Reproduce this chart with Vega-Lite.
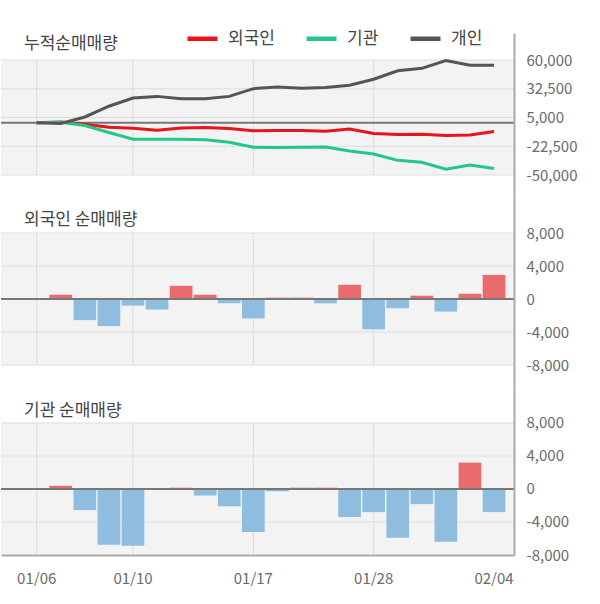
{
  "$schema": "https://vega.github.io/schema/vega-lite/v6.json",
  "padding": {"top": 21, "left": 0, "right": 0, "bottom": 0},
  "background": "white",
  "spacing": 0,
  "bounds": "flush",
  "config": {
    "view": {"stroke": null},
    "font": "Noto Sans CJK KR",
    "title": {"font": "Noto Sans CJK KR", "fontSize": 17, "fontWeight": "normal", "color": "#444444", "anchor": "start", "frame": "group"},
    "axis": {"labelFont": "Noto Sans CJK KR", "labelFontSize": 15, "labelColor": "#6a6a6a", "ticks": false, "grid": false, "title": null, "domainColor": "#aaaaaa", "domainWidth": 2}
  },
  "datasets": {
    "daily": [
      {"date": "01/07", "fgn": 520, "inst": 400},
      {"date": "01/08", "fgn": -2560, "inst": -2560},
      {"date": "01/09", "fgn": -3280, "inst": -6760},
      {"date": "01/10", "fgn": -800, "inst": -6880},
      {"date": "01/13", "fgn": -1280, "inst": 0},
      {"date": "01/14", "fgn": 1600, "inst": 160},
      {"date": "01/15", "fgn": 520, "inst": -800},
      {"date": "01/16", "fgn": -520, "inst": -2080},
      {"date": "01/17", "fgn": -2360, "inst": -5200},
      {"date": "01/20", "fgn": 160, "inst": -280},
      {"date": "01/21", "fgn": 160, "inst": 160},
      {"date": "01/22", "fgn": -520, "inst": 160},
      {"date": "01/23", "fgn": 1720, "inst": -3400},
      {"date": "01/28", "fgn": -3680, "inst": -2800},
      {"date": "01/29", "fgn": -1120, "inst": -5920},
      {"date": "01/30", "fgn": 400, "inst": -1840},
      {"date": "01/31", "fgn": -1520, "inst": -6400},
      {"date": "02/03", "fgn": 640, "inst": 3200},
      {"date": "02/04", "fgn": 2920, "inst": -2800}
    ],
    "cum": [
      {"date": "01/06", "investor": "외국인", "value": 0},
      {"date": "01/07", "investor": "외국인", "value": 700},
      {"date": "01/08", "investor": "외국인", "value": -1500},
      {"date": "01/09", "investor": "외국인", "value": -4300},
      {"date": "01/10", "investor": "외국인", "value": -5300},
      {"date": "01/13", "investor": "외국인", "value": -7200},
      {"date": "01/14", "investor": "외국인", "value": -5000},
      {"date": "01/15", "investor": "외국인", "value": -4600},
      {"date": "01/16", "investor": "외국인", "value": -5500},
      {"date": "01/17", "investor": "외국인", "value": -7700},
      {"date": "01/20", "investor": "외국인", "value": -7500},
      {"date": "01/21", "investor": "외국인", "value": -7500},
      {"date": "01/22", "investor": "외국인", "value": -8200},
      {"date": "01/23", "investor": "외국인", "value": -6000},
      {"date": "01/28", "investor": "외국인", "value": -10200},
      {"date": "01/29", "investor": "외국인", "value": -11200},
      {"date": "01/30", "investor": "외국인", "value": -11000},
      {"date": "01/31", "investor": "외국인", "value": -12200},
      {"date": "02/03", "investor": "외국인", "value": -11800},
      {"date": "02/04", "investor": "외국인", "value": -8300},
      {"date": "01/06", "investor": "기관", "value": 0},
      {"date": "01/07", "investor": "기관", "value": 400},
      {"date": "01/08", "investor": "기관", "value": -2600},
      {"date": "01/09", "investor": "기관", "value": -9300},
      {"date": "01/10", "investor": "기관", "value": -15800},
      {"date": "01/13", "investor": "기관", "value": -15800},
      {"date": "01/14", "investor": "기관", "value": -15700},
      {"date": "01/15", "investor": "기관", "value": -16300},
      {"date": "01/16", "investor": "기관", "value": -18600},
      {"date": "01/17", "investor": "기관", "value": -23400},
      {"date": "01/20", "investor": "기관", "value": -23600},
      {"date": "01/21", "investor": "기관", "value": -23500},
      {"date": "01/22", "investor": "기관", "value": -23300},
      {"date": "01/23", "investor": "기관", "value": -27000},
      {"date": "01/28", "investor": "기관", "value": -30000},
      {"date": "01/29", "investor": "기관", "value": -36000},
      {"date": "01/30", "investor": "기관", "value": -37900},
      {"date": "01/31", "investor": "기관", "value": -44500},
      {"date": "02/03", "investor": "기관", "value": -40500},
      {"date": "02/04", "investor": "기관", "value": -43800},
      {"date": "01/06", "investor": "개인", "value": 0},
      {"date": "01/07", "investor": "개인", "value": -650},
      {"date": "01/08", "investor": "개인", "value": 5500},
      {"date": "01/09", "investor": "개인", "value": 15800},
      {"date": "01/10", "investor": "개인", "value": 23600},
      {"date": "01/13", "investor": "개인", "value": 25200},
      {"date": "01/14", "investor": "개인", "value": 22900},
      {"date": "01/15", "investor": "개인", "value": 22900},
      {"date": "01/16", "investor": "개인", "value": 25200},
      {"date": "01/17", "investor": "개인", "value": 32600},
      {"date": "01/20", "investor": "개인", "value": 34200},
      {"date": "01/21", "investor": "개인", "value": 32900},
      {"date": "01/22", "investor": "개인", "value": 33600},
      {"date": "01/23", "investor": "개인", "value": 35800},
      {"date": "01/28", "investor": "개인", "value": 41600},
      {"date": "01/29", "investor": "개인", "value": 49700},
      {"date": "01/30", "investor": "개인", "value": 52000},
      {"date": "01/31", "investor": "개인", "value": 59400},
      {"date": "02/03", "investor": "개인", "value": 54900},
      {"date": "02/04", "investor": "개인", "value": 54900}
    ],
    "gridDates": [{"date": "01/06"}, {"date": "01/10"}, {"date": "01/17"}, {"date": "01/28"}]
  },
  "vconcat": [
    {
      "width": 513,
      "height": 162,
      "title": {"text": "누적순매매량", "offset": -28, "dx": 23, "baseline": "middle"},
      "layer": [
        {
          "data": {"values": [{"lo": -50000, "hi": 60000}]},
          "mark": {"type": "rect", "color": "#f3f3f3"},
          "encoding": {
            "y": {"field": "lo", "type": "quantitative", "scale": {"domain": [-69130, 85826], "nice": false, "zero": false},
              "axis": {"orient": "right", "values": [60000, 32500, 5000, -22500, -50000], "format": ",d", "labelExpr": "replace(datum.label, '−', '-')", "labelPadding": 12, "zindex": 1}},
            "y2": {"field": "hi"}
          }
        },
        {
          "data": {"name": "gridDates"},
          "mark": {"type": "rule", "color": "#dcdcdc", "strokeWidth": 1},
          "encoding": {
            "x": {"field": "date", "type": "nominal", "bandPosition": 0.5, "axis": null,
              "scale": {"type": "band", "domain": ["01/06","01/07","01/08","01/09","01/10","01/13","01/14","01/15","01/16","01/17","01/20","01/21","01/22","01/23","01/28","01/29","01/30","01/31","02/03","02/04"], "paddingInner": 0.057, "paddingOuter": 0.685, "align": 0.7386, "round": false}},
            "y": {"datum": -50000, "type": "quantitative", "scale": {"domain": [-69130, 85826], "nice": false, "zero": false},
              "axis": {"orient": "right", "values": [60000, 32500, 5000, -22500, -50000], "format": ",d", "labelExpr": "replace(datum.label, '−', '-')", "labelPadding": 12, "zindex": 1}},
            "y2": {"datum": 60000}
          }
        },
        {
          "data": {"values": [{"v": 60000}, {"v": 32500}, {"v": 5000}, {"v": -22500}, {"v": -50000}]},
          "mark": {"type": "rule", "color": "#dcdcdc", "strokeWidth": 1},
          "encoding": {
            "y": {"field": "v", "type": "quantitative", "scale": {"domain": [-69130, 85826], "nice": false, "zero": false},
              "axis": {"orient": "right", "values": [60000, 32500, 5000, -22500, -50000], "format": ",d", "labelExpr": "replace(datum.label, '−', '-')", "labelPadding": 12, "zindex": 1}}
          }
        },
        {
          "data": {"values": [{"v": 0}]},
          "mark": {"type": "rule", "color": "#777777", "strokeWidth": 2},
          "encoding": {
            "y": {"field": "v", "type": "quantitative", "scale": {"domain": [-69130, 85826], "nice": false, "zero": false},
              "axis": {"orient": "right", "values": [60000, 32500, 5000, -22500, -50000], "format": ",d", "labelExpr": "replace(datum.label, '−', '-')", "labelPadding": 12, "zindex": 1}}
          }
        },
        {
          "data": {"name": "cum"},
          "mark": {"type": "line", "strokeWidth": 3},
          "encoding": {
            "x": {"field": "date", "type": "nominal", "bandPosition": 0.5, "axis": null,
              "scale": {"type": "band", "domain": ["01/06","01/07","01/08","01/09","01/10","01/13","01/14","01/15","01/16","01/17","01/20","01/21","01/22","01/23","01/28","01/29","01/30","01/31","02/03","02/04"], "paddingInner": 0.057, "paddingOuter": 0.685, "align": 0.7386, "round": false}},
            "y": {"field": "value", "type": "quantitative", "scale": {"domain": [-69130, 85826], "nice": false, "zero": false},
              "axis": {"orient": "right", "values": [60000, 32500, 5000, -22500, -50000], "format": ",d", "labelExpr": "replace(datum.label, '−', '-')", "labelPadding": 12, "zindex": 1}},
            "color": {"field": "investor", "type": "nominal",
              "scale": {"domain": ["외국인", "기관", "개인"], "range": ["#e8141c", "#22c88a", "#555555"]},
              "legend": {"orient": "none", "legendX": 184, "legendY": -12, "direction": "horizontal", "title": null, "symbolType": "stroke", "symbolSize": 900, "symbolStrokeWidth": 4.5, "labelFont": "Noto Sans CJK KR", "labelFontSize": 17, "labelColor": "#444444", "labelOffset": 8, "columnPadding": 22, "padding": 0}
            }
          }
        }
      ]
    },
    {
      "width": 513,
      "height": 190,
      "title": {"text": "외국인 순매매량", "offset": -42, "dx": 23, "baseline": "middle"},
      "layer": [
        {
          "data": {"values": [{"lo": -8000, "hi": 8000}]},
          "mark": {"type": "rect", "color": "#f3f3f3"},
          "encoding": {
            "y": {"field": "lo", "type": "quantitative", "scale": {"domain": [-10424, 12606], "nice": false, "zero": false},
              "axis": {"orient": "right", "values": [8000, 4000, 0, -4000, -8000], "format": ",d", "labelExpr": "replace(datum.label, '−', '-')", "labelPadding": 12, "zindex": 1}},
            "y2": {"field": "hi"}
          }
        },
        {
          "data": {"name": "gridDates"},
          "mark": {"type": "rule", "color": "#dcdcdc", "strokeWidth": 1},
          "encoding": {
            "x": {"field": "date", "type": "nominal", "bandPosition": 0.5, "axis": null,
              "scale": {"type": "band", "domain": ["01/06","01/07","01/08","01/09","01/10","01/13","01/14","01/15","01/16","01/17","01/20","01/21","01/22","01/23","01/28","01/29","01/30","01/31","02/03","02/04"], "paddingInner": 0.057, "paddingOuter": 0.685, "align": 0.7386, "round": false}},
            "y": {"datum": -8000, "type": "quantitative", "scale": {"domain": [-10424, 12606], "nice": false, "zero": false},
              "axis": {"orient": "right", "values": [8000, 4000, 0, -4000, -8000], "format": ",d", "labelExpr": "replace(datum.label, '−', '-')", "labelPadding": 12, "zindex": 1}},
            "y2": {"datum": 8000}
          }
        },
        {
          "data": {"values": [{"v": 8000}, {"v": 4000}, {"v": -4000}, {"v": -8000}]},
          "mark": {"type": "rule", "color": "#dcdcdc", "strokeWidth": 1},
          "encoding": {
            "y": {"field": "v", "type": "quantitative", "scale": {"domain": [-10424, 12606], "nice": false, "zero": false},
              "axis": {"orient": "right", "values": [8000, 4000, 0, -4000, -8000], "format": ",d", "labelExpr": "replace(datum.label, '−', '-')", "labelPadding": 12, "zindex": 1}}
          }
        },
        {
          "data": {"name": "daily"},
          "mark": {"type": "bar"},
          "encoding": {
            "x": {"field": "date", "type": "nominal", "axis": null,
              "scale": {"type": "band", "domain": ["01/06","01/07","01/08","01/09","01/10","01/13","01/14","01/15","01/16","01/17","01/20","01/21","01/22","01/23","01/28","01/29","01/30","01/31","02/03","02/04"], "paddingInner": 0.057, "paddingOuter": 0.685, "align": 0.7386, "round": false}},
            "y": {"field": "fgn", "type": "quantitative", "scale": {"domain": [-10424, 12606], "nice": false, "zero": false},
              "axis": {"orient": "right", "values": [8000, 4000, 0, -4000, -8000], "format": ",d", "labelExpr": "replace(datum.label, '−', '-')", "labelPadding": 12, "zindex": 1}},
            "y2": {"datum": 0},
            "color": {"condition": {"test": "datum.fgn > 0", "value": "#ea6b6b"}, "value": "#8ebde0"}
          }
        },
        {
          "data": {"values": [{"v": 0}]},
          "mark": {"type": "rule", "color": "#777777", "strokeWidth": 2},
          "encoding": {
            "y": {"field": "v", "type": "quantitative", "scale": {"domain": [-10424, 12606], "nice": false, "zero": false},
              "axis": {"orient": "right", "values": [8000, 4000, 0, -4000, -8000], "format": ",d", "labelExpr": "replace(datum.label, '−', '-')", "labelPadding": 12, "zindex": 1}}
          }
        }
      ]
    },
    {
      "width": 513,
      "height": 170,
      "title": {"text": "기관 순매매량", "offset": -43, "dx": 23, "baseline": "middle"},
      "layer": [
        {
          "data": {"values": [{"lo": -8000, "hi": 8000}]},
          "mark": {"type": "rect", "color": "#f3f3f3"},
          "encoding": {
            "y": {"field": "lo", "type": "quantitative", "scale": {"domain": [-8000, 12606], "nice": false, "zero": false},
              "axis": {"orient": "right", "values": [8000, 4000, 0, -4000, -8000], "format": ",d", "labelExpr": "replace(datum.label, '−', '-')", "labelPadding": 12, "zindex": 1}},
            "y2": {"field": "hi"}
          }
        },
        {
          "data": {"name": "gridDates"},
          "mark": {"type": "rule", "color": "#dcdcdc", "strokeWidth": 1},
          "encoding": {
            "x": {"field": "date", "type": "nominal", "bandPosition": 0.5,
              "scale": {"type": "band", "domain": ["01/06","01/07","01/08","01/09","01/10","01/13","01/14","01/15","01/16","01/17","01/20","01/21","01/22","01/23","01/28","01/29","01/30","01/31","02/03","02/04"], "paddingInner": 0.057, "paddingOuter": 0.685, "align": 0.7386, "round": false},
              "axis": {"orient": "bottom", "values": ["01/06", "01/10", "01/17", "01/28", "02/04"], "labelAngle": 0, "labelPadding": 16, "zindex": 1}},
            "y": {"datum": -8000, "type": "quantitative", "scale": {"domain": [-8000, 12606], "nice": false, "zero": false},
              "axis": {"orient": "right", "values": [8000, 4000, 0, -4000, -8000], "format": ",d", "labelExpr": "replace(datum.label, '−', '-')", "labelPadding": 12, "zindex": 1}},
            "y2": {"datum": 8000}
          }
        },
        {
          "data": {"values": [{"v": 8000}, {"v": 4000}, {"v": -4000}]},
          "mark": {"type": "rule", "color": "#dcdcdc", "strokeWidth": 1},
          "encoding": {
            "y": {"field": "v", "type": "quantitative", "scale": {"domain": [-8000, 12606], "nice": false, "zero": false},
              "axis": {"orient": "right", "values": [8000, 4000, 0, -4000, -8000], "format": ",d", "labelExpr": "replace(datum.label, '−', '-')", "labelPadding": 12, "zindex": 1}}
          }
        },
        {
          "data": {"name": "daily"},
          "mark": {"type": "bar"},
          "encoding": {
            "x": {"field": "date", "type": "nominal",
              "scale": {"type": "band", "domain": ["01/06","01/07","01/08","01/09","01/10","01/13","01/14","01/15","01/16","01/17","01/20","01/21","01/22","01/23","01/28","01/29","01/30","01/31","02/03","02/04"], "paddingInner": 0.057, "paddingOuter": 0.685, "align": 0.7386, "round": false},
              "axis": {"orient": "bottom", "values": ["01/06", "01/10", "01/17", "01/28", "02/04"], "labelAngle": 0, "labelPadding": 16, "zindex": 1}},
            "y": {"field": "inst", "type": "quantitative", "scale": {"domain": [-8000, 12606], "nice": false, "zero": false},
              "axis": {"orient": "right", "values": [8000, 4000, 0, -4000, -8000], "format": ",d", "labelExpr": "replace(datum.label, '−', '-')", "labelPadding": 12, "zindex": 1}},
            "y2": {"datum": 0},
            "color": {"condition": {"test": "datum.inst > 0", "value": "#ea6b6b"}, "value": "#8ebde0"}
          }
        },
        {
          "data": {"values": [{"v": 0}]},
          "mark": {"type": "rule", "color": "#777777", "strokeWidth": 2},
          "encoding": {
            "y": {"field": "v", "type": "quantitative", "scale": {"domain": [-8000, 12606], "nice": false, "zero": false},
              "axis": {"orient": "right", "values": [8000, 4000, 0, -4000, -8000], "format": ",d", "labelExpr": "replace(datum.label, '−', '-')", "labelPadding": 12, "zindex": 1}}
          }
        }
      ]
    }
  ]
}
